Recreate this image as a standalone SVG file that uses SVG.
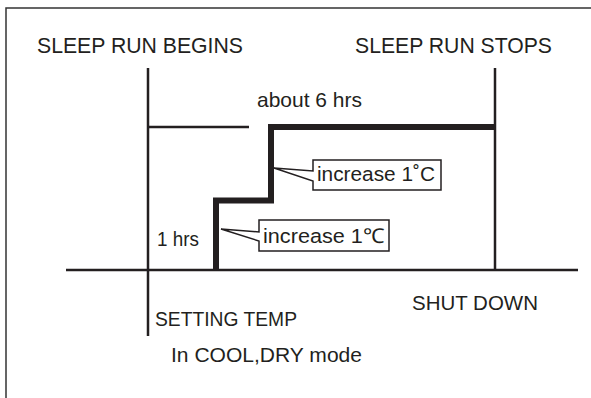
<svg xmlns="http://www.w3.org/2000/svg" width="591" height="398" viewBox="0 0 591 398">
<style>
.t{font-family:"Liberation Sans",Arial,sans-serif;fill:#231f20}
.thin{stroke:#231f20;stroke-width:2.5;fill:none}
.box{stroke:#231f20;stroke-width:1.5;fill:#fff}
</style>
<rect x="0" y="0" width="591" height="398" fill="#fff"/>
<g id="frame"><path d="M6,398 V8 H591" fill="none" stroke="#333" stroke-width="1.5"/></g>
<g id="labels">
<text class="t" x="37" y="53" font-size="21.5" textLength="206" lengthAdjust="spacingAndGlyphs">SLEEP RUN BEGINS</text>
<text class="t" x="355" y="53" font-size="21.5" textLength="197" lengthAdjust="spacingAndGlyphs">SLEEP RUN STOPS</text>
<text class="t" x="257" y="107" font-size="21" textLength="105" lengthAdjust="spacingAndGlyphs">about 6 hrs</text>
<text class="t" x="157" y="246" font-size="20" textLength="42" lengthAdjust="spacingAndGlyphs">1 hrs</text>
<text class="t" x="412" y="310" font-size="21" textLength="126" lengthAdjust="spacingAndGlyphs">SHUT DOWN</text>
<text class="t" x="155" y="326" font-size="20" textLength="142" lengthAdjust="spacingAndGlyphs">SETTING TEMP</text>
<text class="t" x="171" y="362" font-size="21" textLength="191" lengthAdjust="spacingAndGlyphs">In COOL,DRY mode</text>
</g>
<g id="connectors">
<line class="thin" x1="148" y1="68" x2="148" y2="336"/>
<line class="thin" x1="495" y1="68" x2="495" y2="270"/>
<line class="thin" x1="66" y1="270" x2="578" y2="270"/>
<line class="thin" x1="148" y1="127" x2="249" y2="127" stroke-width="2"/>
<path d="M216,270 V200.5 H271 V127 H495" fill="none" stroke="#231f20" stroke-width="6"/>
</g>
<g id="callout1">
<path class="box" d="M313,160 H441 V190 H313 V181 L274,168 L313,171 Z"/>
<text class="t" x="317" y="181" font-size="20.5" textLength="118" lengthAdjust="spacingAndGlyphs">increase 1˚C</text>
</g>
<g id="callout2">
<path class="box" d="M259,220 H389 V251 H259 V241 L221,229 L259,232 Z"/>
<text class="t" x="263" y="243" font-size="20.5" textLength="121" lengthAdjust="spacingAndGlyphs">increase 1℃</text>
</g>
</svg>
